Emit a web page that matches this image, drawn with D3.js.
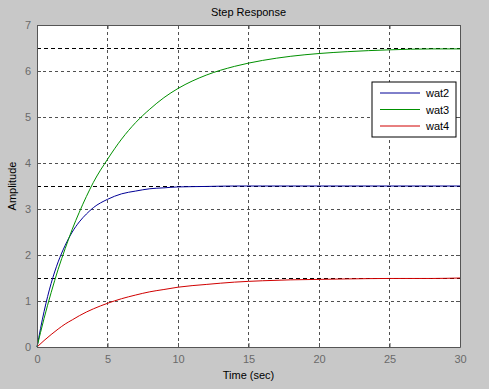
<!DOCTYPE html>
<html>
<head>
<meta charset="utf-8">
<script src="https://cdn.jsdelivr.net/npm/d3@7"></script>
<style>
  body { margin: 0; background: #c8c8c8; }
  svg { display: block; font-family: "Liberation Sans", Arial, sans-serif; }
</style>
</head>
<body>
<div id="vis"></div>
<script>
// sample times (sec) and responses
var times = [0, 0.5, 1, 1.5, 2, 2.5, 3, 3.5, 4, 5, 6, 7, 8, 9, 10, 12, 14, 16, 18, 20, 22, 25, 28, 30];
var wat2 = [0, 0.77, 1.38, 1.85, 2.21, 2.50, 2.72, 2.89, 3.03, 3.21, 3.33, 3.39, 3.44, 3.46, 3.48, 3.49, 3.50, 3.50, 3.50, 3.50, 3.50, 3.50, 3.50, 3.50];
var wat3 = [0, 0.62, 1.18, 1.69, 2.14, 2.56, 2.93, 3.27, 3.58, 4.08, 4.52, 4.88, 5.17, 5.42, 5.62, 5.91, 6.10, 6.23, 6.32, 6.38, 6.42, 6.46, 6.48, 6.48];
var wat4 = [0, 0.14, 0.27, 0.39, 0.50, 0.59, 0.68, 0.76, 0.83, 0.95, 1.05, 1.13, 1.20, 1.25, 1.30, 1.36, 1.41, 1.44, 1.46, 1.47, 1.48, 1.49, 1.49, 1.50];
var seriesNames = ['wat2', 'wat3', 'wat4'];
var seriesColors = ['#000096', '#009000', '#d00000'];
var finalValues = [6.5, 3.5, 1.5];
var xTicks = [0, 5, 10, 15, 20, 25, 30];
var yTicks = [0, 1, 2, 3, 4, 5, 6, 7];

var width = 489, height = 389;
var margin = { left: 37, right: 29, top: 25, bottom: 42 };

var svg = d3.select('#vis').append('svg')
  .attr('width', width)
  .attr('height', height);

svg.append('rect').attr('width', width).attr('height', height).attr('fill', '#c8c8c8');

var x = d3.scaleLinear().domain([0, 30]).range([margin.left, width - margin.right]);
var y = d3.scaleLinear().domain([0, 7]).range([height - margin.bottom, margin.top]);

svg.append('rect')
  .attr('x', x(0)).attr('y', y(7))
  .attr('width', x(30) - x(0)).attr('height', y(0) - y(7))
  .attr('fill', '#ffffff');

// grid
var grid = svg.append('g').attr('stroke', '#505050').attr('stroke-width', 1)
  .attr('stroke-dasharray', '3,3').attr('shape-rendering', 'crispEdges');
grid.selectAll('.gx').data(xTicks.slice(1, -1)).enter().append('line')
  .attr('x1', function (d) { return x(d); }).attr('x2', function (d) { return x(d); })
  .attr('y1', y(0)).attr('y2', y(7));
grid.selectAll('.gy').data(yTicks.slice(1, -1)).enter().append('line')
  .attr('y1', function (d) { return y(d); }).attr('y2', function (d) { return y(d); })
  .attr('x1', x(0)).attr('x2', x(30));

// steady-state lines
svg.append('g').selectAll('line').data(finalValues).enter().append('line')
  .attr('x1', x(0)).attr('x2', x(30))
  .attr('y1', function (d) { return y(d); }).attr('y2', function (d) { return y(d); })
  .attr('stroke', '#000').attr('stroke-dasharray', '4,3').attr('shape-rendering', 'crispEdges');

// curves
var line = d3.line()
  .x(function (d) { return x(d[0]); })
  .y(function (d) { return y(d[1]); })
  .curve(d3.curveMonotoneX);

[wat2, wat3, wat4].forEach(function (vals, i) {
  svg.append('path')
    .datum(times.map(function (t, j) { return [t, vals[j]]; }))
    .attr('d', line)
    .attr('fill', 'none')
    .attr('stroke', seriesColors[i])
    .attr('stroke-width', 1);
});

// axes
svg.append('g').attr('transform', 'translate(0,' + y(0) + ')')
  .call(d3.axisBottom(x).tickValues(xTicks).tickSizeInner(-4).tickSizeOuter(0).tickPadding(8));
svg.append('g').attr('transform', 'translate(' + x(0) + ',0)')
  .call(d3.axisLeft(y).tickValues(yTicks).tickFormat(d3.format('d')).tickSizeInner(-4).tickSizeOuter(0).tickPadding(6));
svg.append('g').attr('transform', 'translate(0,' + y(7) + ')')
  .call(d3.axisTop(x).tickValues(xTicks).tickSizeInner(-4).tickSizeOuter(0).tickFormat(''));
svg.append('g').attr('transform', 'translate(' + x(30) + ',0)')
  .call(d3.axisRight(y).tickValues(yTicks).tickSizeInner(-4).tickSizeOuter(0).tickFormat(''));

svg.selectAll('.domain').attr('stroke', '#555');
svg.selectAll('.tick line').attr('stroke', '#555');
svg.selectAll('.tick text').attr('fill', '#6a6a6a').style('font-size', '11px');

svg.append('text').attr('x', (x(0) + x(30)) / 2).attr('y', 16)
  .attr('text-anchor', 'middle').style('font-size', '11px').text('Step Response');
svg.append('text').attr('x', (x(0) + x(30)) / 2).attr('y', 379)
  .attr('text-anchor', 'middle').style('font-size', '11px').text('Time (sec)');
svg.append('text').attr('transform', 'translate(16,' + (y(3.5)) + ') rotate(-90)')
  .attr('text-anchor', 'middle').style('font-size', '11px').text('Amplitude');

// legend
var legend = svg.append('g').attr('transform', 'translate(372,82)');
legend.append('rect').attr('width', 84).attr('height', 55)
  .attr('fill', '#fff').attr('stroke', '#000');
seriesNames.forEach(function (name, i) {
  var ly = 11 + i * 16.5;
  legend.append('line').attr('x1', 8).attr('x2', 48).attr('y1', ly).attr('y2', ly)
    .attr('stroke', seriesColors[i]);
  legend.append('text').attr('x', 54).attr('y', ly + 4)
    .style('font-size', '11px').text(name);
});
</script>
</body>
</html>
